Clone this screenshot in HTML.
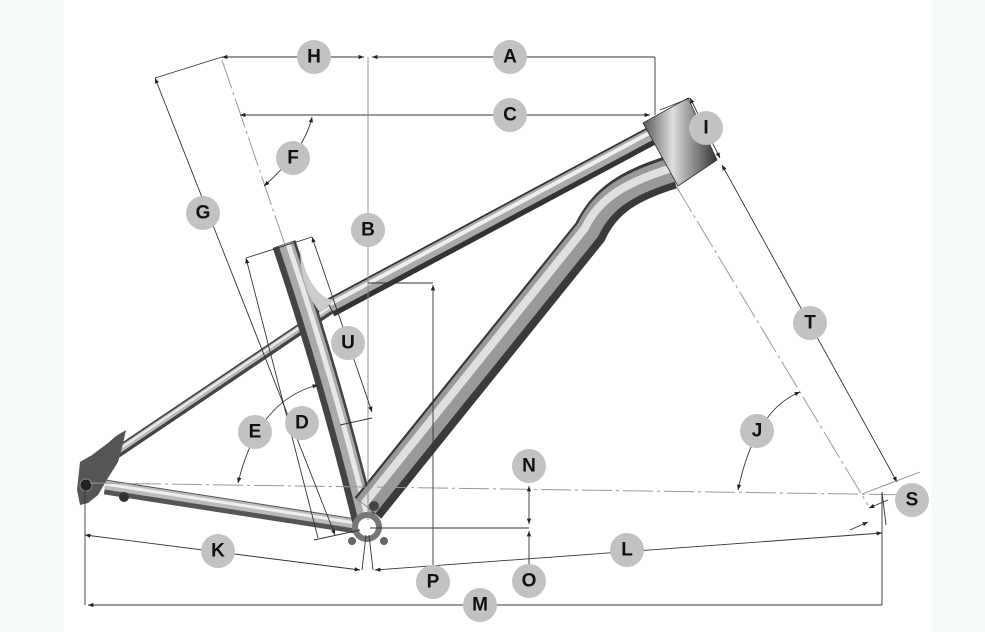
<!DOCTYPE html>
<html><head><meta charset="utf-8"><style>
html,body{margin:0;padding:0;background:#fff}
svg{display:block}
text{font-family:"Liberation Sans",sans-serif;font-weight:bold;font-size:19px;fill:#111;text-anchor:middle;dominant-baseline:central}
</style></head><body>
<svg width="985" height="632" viewBox="0 0 985 632" xmlns="http://www.w3.org/2000/svg">
<defs>
<marker id="ar" viewBox="0 0 10 10" refX="10" refY="5" markerWidth="6" markerHeight="6" orient="auto-start-reverse"><path d="M0,1 L10,5 L0,9z" fill="#222"/></marker>
<linearGradient id="hg" x1="0" y1="0" x2="1" y2="0">
<stop offset="0" stop-color="#555"/><stop offset="0.4" stop-color="#ddd"/><stop offset="1" stop-color="#333"/>
</linearGradient>
</defs>
<rect width="985" height="632" fill="#fff"/>
<rect x="0" y="0" width="64" height="632" fill="#f8fbfb"/>
<rect x="932" y="0" width="53" height="632" fill="#f8fbfb"/>

<!-- frame -->
<g fill="none" stroke-linecap="butt">
<!-- chainstay -->
<path d="M105,487 L362,527" stroke="#555" stroke-width="15"/>
<path d="M105,485 L362,525" stroke="#bbb" stroke-width="9"/>
<path d="M105,484 L362,524" stroke="#eee" stroke-width="3"/>
<!-- seat stay + top tube -->
<path d="M100,464 L330,309" stroke="#444" stroke-width="11"/>
<path d="M100,463 L330,308" stroke="#bbb" stroke-width="6"/>
<path d="M100,462 L330,307" stroke="#eee" stroke-width="2"/>
<path d="M330,308 L655,134" stroke="#333" stroke-width="19"/>
<path d="M330,306 L655,132" stroke="#aaa" stroke-width="12"/>
<path d="M330,304 L655,130" stroke="#eee" stroke-width="4"/>
<!-- seat tube -->
<path d="M284,244 Q330,380 364,520" stroke="#444" stroke-width="24"/>
<path d="M286,244 Q332,380 366,520" stroke="#aaa" stroke-width="15"/>
<path d="M288,244 Q334,380 368,520" stroke="#e8e8e8" stroke-width="5"/>
<!-- down tube -->
<path d="M672,172 C630,185 605,200 590,232 L368,508" stroke="#3a3a3a" stroke-width="34"/>
<path d="M672,170 C630,183 603,198 588,230 L366,506" stroke="#999" stroke-width="24"/>
<path d="M672,168 C630,181 600,196 585,228 L364,504" stroke="#e0e0e0" stroke-width="8"/>
</g>
<path d="M300,248 C305,280 320,300 335,300 L320,312 C310,300 300,280 300,248z" fill="#ccc"/>
<!-- head tube -->
<path d="M643,123 L688,98 L717,160 L678,186z" fill="url(#hg)" stroke="#333" stroke-width="0.8"/>
<!-- dropout -->
<path d="M80,462 L92,455 L108,443 L116,436 L126,430 L122,448 L118,462 L108,478 L98,495 L88,503 L80,505 L77,490z" fill="#555"/>
<circle cx="86" cy="485" r="6" fill="#222" stroke="#888"/>
<circle cx="124" cy="497" r="5" fill="#333"/>
<circle cx="374" cy="506" r="5" fill="#444"/>
<!-- BB -->
<circle cx="367" cy="527" r="15" fill="#777"/>
<circle cx="352" cy="541" r="4" fill="#666"/><circle cx="384" cy="541" r="4" fill="#666"/>
<circle cx="367" cy="527" r="9" fill="#fff"/>

<!-- dash-dot reference lines -->
<g fill="none" stroke="#999" stroke-width="1" stroke-dasharray="30,4,3,4">
<line x1="90" y1="483" x2="920" y2="495"/>
<line x1="676" y1="186" x2="868" y2="505"/>
<line x1="222" y1="60" x2="285" y2="245"/>
</g>

<!-- dimension lines -->
<g fill="none" stroke="#333" stroke-width="0.9">
<line x1="222" y1="57" x2="364" y2="57" marker-start="url(#ar)" marker-end="url(#ar)"/>
<line x1="372" y1="57" x2="655" y2="57" marker-start="url(#ar)"/>
<line x1="655" y1="57" x2="655" y2="115"/>
<line x1="240" y1="115" x2="650" y2="115" marker-start="url(#ar)" marker-end="url(#ar)"/>
<line x1="368" y1="57" x2="368" y2="520" stroke="#888"/>
<line x1="155" y1="78" x2="222" y2="57"/>
<line x1="155" y1="78" x2="335" y2="535" marker-start="url(#ar)" marker-end="url(#ar)"/>
<path d="M312,117 Q305,150 264,186" marker-start="url(#ar)" marker-end="url(#ar)"/>
<line x1="246" y1="258" x2="312" y2="237"/>
<line x1="246" y1="258" x2="318" y2="538" marker-start="url(#ar)"/>
<line x1="312" y1="237" x2="372" y2="412" marker-start="url(#ar)" marker-end="url(#ar)"/>
<line x1="340" y1="425" x2="372" y2="418"/>
<line x1="314" y1="540" x2="360" y2="530"/>
<path d="M318,385 Q258,400 238,483" marker-start="url(#ar)" marker-end="url(#ar)"/>
<line x1="368" y1="283" x2="433" y2="283"/>
<line x1="433" y1="285" x2="433" y2="568" marker-start="url(#ar)"/>
<line x1="370" y1="528" x2="529" y2="528"/>
<line x1="529" y1="486" x2="529" y2="524" marker-start="url(#ar)" marker-end="url(#ar)"/>
<line x1="529" y1="531" x2="529" y2="565" marker-start="url(#ar)"/>
<line x1="85" y1="490" x2="85" y2="605"/>
<line x1="85" y1="535" x2="360" y2="570" marker-start="url(#ar)" marker-end="url(#ar)"/>
<line x1="362" y1="570" x2="366" y2="535"/>
<line x1="373" y1="570" x2="369" y2="535"/>
<line x1="375" y1="570" x2="882" y2="533" marker-start="url(#ar)" marker-end="url(#ar)"/>
<line x1="88" y1="605" x2="882" y2="605" marker-start="url(#ar)"/>
<line x1="882" y1="492" x2="882" y2="605"/>
<line x1="690" y1="98" x2="720" y2="158" marker-start="url(#ar)" marker-end="url(#ar)"/>
<line x1="660" y1="110" x2="690" y2="98"/>
<line x1="722" y1="165" x2="897" y2="482" marker-start="url(#ar)" marker-end="url(#ar)"/>
<line x1="862" y1="494" x2="920" y2="472" stroke="#888"/>
<line x1="869" y1="508" x2="888" y2="500" marker-start="url(#ar)"/>
<line x1="850" y1="530" x2="868" y2="522" marker-end="url(#ar)"/>
<line x1="882" y1="492" x2="886" y2="525"/>
<path d="M800,392 Q755,410 738,490" marker-start="url(#ar)" marker-end="url(#ar)"/>
</g>

<!-- labels -->
<g fill="#c2c2c2">
<circle cx="314" cy="57" r="17"/><circle cx="510" cy="57" r="17"/><circle cx="510" cy="115" r="17"/>
<circle cx="706" cy="128" r="17"/><circle cx="293" cy="158" r="17"/><circle cx="203" cy="213" r="17"/>
<circle cx="368" cy="230" r="17"/><circle cx="810" cy="323" r="17"/><circle cx="348" cy="343" r="17"/>
<circle cx="302" cy="423" r="17"/><circle cx="255" cy="432" r="17"/><circle cx="757" cy="431" r="17"/>
<circle cx="529" cy="466" r="17"/><circle cx="912" cy="500" r="17"/><circle cx="218" cy="551" r="17"/>
<circle cx="627" cy="550" r="17"/><circle cx="433" cy="582" r="17"/><circle cx="529" cy="581" r="17"/>
<circle cx="480" cy="605" r="17"/>
</g>
<text x="314" y="57">H</text><text x="510" y="57">A</text><text x="510" y="115">C</text>
<text x="706" y="128">I</text><text x="293" y="158">F</text><text x="203" y="213">G</text>
<text x="368" y="230">B</text><text x="810" y="323">T</text><text x="348" y="343">U</text>
<text x="302" y="423">D</text><text x="255" y="432">E</text><text x="757" y="431">J</text>
<text x="529" y="466">N</text><text x="912" y="500">S</text><text x="218" y="551">K</text>
<text x="627" y="550">L</text><text x="433" y="582">P</text><text x="529" y="581">O</text>
<text x="480" y="605">M</text>
</svg>
</body></html>
